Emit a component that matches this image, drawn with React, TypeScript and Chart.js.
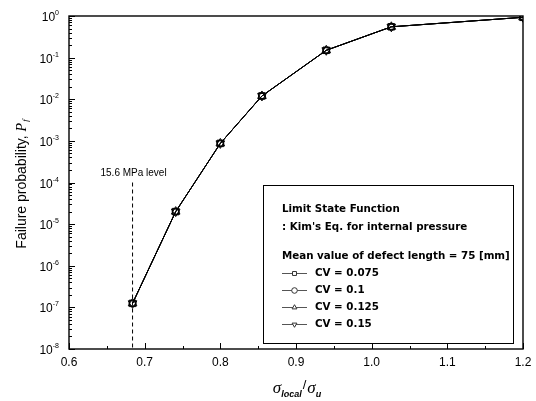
import React, { useEffect, useRef } from "react";
import { Chart, registerables } from "chart.js";

Chart.register(...registerables);

// ---- data ----
const stressRatio = [0.684, 0.741, 0.8, 0.855, 0.94, 1.026, 1.2];
const pfCV0075 = [1.25e-7, 2.0e-5, 8.7e-4, 1.2e-2, 0.15, 0.55, 0.93];
const pfCV01 = [1.25e-7, 2.0e-5, 8.7e-4, 1.2e-2, 0.15, 0.55, 0.93];
const pfCV0125 = [1.25e-7, 2.0e-5, 8.7e-4, 1.2e-2, 0.15, 0.55, 0.93];
const pfCV015 = [1.25e-7, 2.0e-5, 8.7e-4, 1.2e-2, 0.15, 0.55, 0.93];
const seriesLabels = ["CV = 0.075", "CV = 0.1", "CV = 0.125", "CV = 0.15"];
const seriesMarkers = ["rect", "circle", "triangle", "triangle"];
const seriesRotations = [0, 0, 0, 180];
const seriesMarkerSizes = [4.6, 3.4, 5, 5];

const xTickValues = [0.6, 0.7, 0.8, 0.9, 1.0, 1.1, 1.2];
const xMinorTickValues = [0.65, 0.75, 0.85, 0.95, 1.05, 1.15];
const yExponents = [0, -1, -2, -3, -4, -5, -6, -7, -8];

const levelX = [0.684, 0.684];
const levelY = [1e-4, 1e-8];
const levelLabel = "15.6 MPa level";

const legendHeaderLines = [
  "Limit State Function",
  ": Kim's Eq. for internal pressure",
  "Mean value of defect length = 75 [mm]",
];

const xTitleMain = "σ";
const xTitleSub1 = "local";
const xTitleSub2 = "u";
const yTitleText = "Failure probability, ";

function drawMarker(ctx: CanvasRenderingContext2D, style: string, rot: number, x: number, y: number, r: number) {
  ctx.beginPath();
  if (style === "rect") {
    const s = r * Math.SQRT1_2;
    ctx.rect(x - s, y - s, 2 * s, 2 * s);
  } else if (style === "circle") {
    ctx.arc(x, y, r, 0, Math.PI * 2);
  } else {
    const dir = rot === 180 ? -1 : 1;
    ctx.moveTo(x, y - dir * r);
    ctx.lineTo(x - r * 0.866, y + dir * r * 0.5);
    ctx.lineTo(x + r * 0.866, y + dir * r * 0.5);
    ctx.closePath();
  }
  ctx.fill();
  ctx.stroke();
}

const decorPlugin = {
  id: "decor",
  afterDraw(chart: any) {
    const { ctx, chartArea, scales } = chart;
    const xs = scales.x;
    const ys = scales.y;
    const { left, right, top, bottom } = chartArea;
    ctx.save();
    ctx.strokeStyle = "#000";
    ctx.fillStyle = "#000";

    // frame
    ctx.lineWidth = 1.4;
    ctx.strokeRect(left, top, right - left, bottom - top);

    // x ticks
    ctx.lineWidth = 1;
    ctx.beginPath();
    xTickValues.forEach((v) => {
      const px = Math.round(xs.getPixelForValue(v)) + 0.5;
      ctx.moveTo(px, bottom);
      ctx.lineTo(px, bottom - 6);
    });
    xMinorTickValues.forEach((v) => {
      const px = Math.round(xs.getPixelForValue(v)) + 0.5;
      ctx.moveTo(px, bottom);
      ctx.lineTo(px, bottom - 3);
    });
    // y ticks
    yExponents.forEach((e) => {
      const py = Math.round(ys.getPixelForValue(Math.pow(10, e))) + 0.5;
      ctx.moveTo(left, py);
      ctx.lineTo(left + 6, py);
      if (e > -8) {
        for (let k = 2; k <= 9; k++) {
          const pm = Math.round(ys.getPixelForValue(k * Math.pow(10, e - 1))) + 0.5;
          ctx.moveTo(left, pm);
          ctx.lineTo(left + 3, pm);
        }
      }
    });
    ctx.stroke();

    // x tick labels
    ctx.font = "12px 'Liberation Sans', Arial, sans-serif";
    ctx.textAlign = "center";
    ctx.textBaseline = "middle";
    xTickValues.forEach((v) => {
      ctx.fillText(v.toFixed(1), xs.getPixelForValue(v), bottom + 14);
    });

    // y tick labels 10^n
    yExponents.forEach((e) => {
      const py = ys.getPixelForValue(Math.pow(10, e));
      const exp = e === 0 ? "0" : "-" + Math.abs(e);
      ctx.font = "7px 'Liberation Sans', Arial, sans-serif";
      const ew = ctx.measureText(exp).width;
      ctx.font = "12px 'Liberation Sans', Arial, sans-serif";
      const bw = ctx.measureText("10").width;
      const xe = left - 10;
      ctx.textAlign = "left";
      ctx.textBaseline = "alphabetic";
      ctx.fillText("10", xe - ew - bw, py + 5);
      ctx.font = "7px 'Liberation Sans', Arial, sans-serif";
      ctx.fillText(exp, xe - ew, py - 1);
    });

    // y title
    ctx.save();
    ctx.translate(22, (top + bottom) / 2 + 2);
    ctx.rotate(-Math.PI / 2);
    ctx.font = "14px 'Liberation Sans', Arial, sans-serif";
    const w1 = ctx.measureText(yTitleText).width;
    ctx.font = "italic 14px 'Liberation Serif', serif";
    const w2 = ctx.measureText("P").width;
    ctx.font = "italic 9px 'Liberation Serif', serif";
    const w3 = ctx.measureText("f").width;
    let cx = -(w1 + w2 + w3) / 2;
    ctx.textAlign = "left";
    ctx.textBaseline = "middle";
    ctx.font = "14px 'Liberation Sans', Arial, sans-serif";
    ctx.fillText(yTitleText, cx, 0);
    cx += w1;
    ctx.font = "italic 14px 'Liberation Serif', serif";
    ctx.fillText("P", cx, 0);
    cx += w2;
    ctx.font = "italic 9px 'Liberation Serif', serif";
    ctx.fillText("f", cx + 1, 4);
    ctx.restore();

    // x title
    {
      const base = 393;
      ctx.textAlign = "left";
      ctx.textBaseline = "alphabetic";
      const fMain = "italic 17px 'Liberation Serif', serif";
      const fSub = "italic bold 9px 'Liberation Sans', Arial, sans-serif";
      const fSlash = "13px 'Liberation Sans', Arial, sans-serif";
      ctx.font = fMain;
      const sw = ctx.measureText(xTitleMain).width;
      ctx.font = fSub;
      const l1 = ctx.measureText(xTitleSub1).width;
      const l2 = ctx.measureText(xTitleSub2).width;
      ctx.font = fSlash;
      const slw = ctx.measureText("/").width;
      const total = sw + l1 + slw + 2 + sw + l2;
      let px = (left + right) / 2 - total / 2 + 1;
      ctx.font = fMain;
      ctx.fillText(xTitleMain, px, base);
      px += sw;
      ctx.font = fSub;
      ctx.fillText(xTitleSub1, px, base + 4);
      px += l1 + 1;
      ctx.font = fSlash;
      ctx.fillText("/", px, base - 4);
      px += slw + 1;
      ctx.font = fMain;
      ctx.fillText(xTitleMain, px, base);
      px += sw;
      ctx.font = fSub;
      ctx.fillText(xTitleSub2, px, base + 4);
    }

    // level label
    ctx.font = "10px 'Liberation Sans', Arial, sans-serif";
    ctx.textAlign = "center";
    ctx.textBaseline = "middle";
    ctx.fillText(levelLabel, xs.getPixelForValue(levelX[0]) + 1, ys.getPixelForValue(levelY[0]) - 9);

    // legend box
    const bx = left + 194;
    const by = top + 169;
    const bw2 = 250;
    const bh = 158;
    ctx.fillStyle = "#fff";
    ctx.fillRect(bx, by, bw2, bh);
    ctx.fillStyle = "#000";
    ctx.lineWidth = 1;
    ctx.strokeRect(bx + 0.5, by + 0.5, bw2, bh);
    const tx = bx + 19;
    ctx.textAlign = "left";
    ctx.textBaseline = "middle";
    ctx.font = "bold 10.3px 'DejaVu Sans', sans-serif";
    ctx.fillText(legendHeaderLines[0], tx, by + 24);
    ctx.fillText(legendHeaderLines[1], tx, by + 42);
    ctx.fillText(legendHeaderLines[2], tx, by + 71);
    seriesLabels.forEach((lab, i) => {
      const ly = by + 88 + i * 17;
      ctx.strokeStyle = "#555";
      ctx.lineWidth = 1;
      ctx.beginPath();
      ctx.moveTo(tx, ly + 0.5);
      ctx.lineTo(tx + 25, ly + 0.5);
      ctx.stroke();
      ctx.fillStyle = "#fff";
      ctx.strokeStyle = "#333";
      drawMarker(ctx, seriesMarkers[i], seriesRotations[i], tx + 12.5, ly + 0.5, 2.8);
      ctx.fillStyle = "#000";
      ctx.fillText(lab, tx + 33, ly);
    });

    ctx.restore();
  },
};

export default function App() {
  const ref = useRef<HTMLCanvasElement | null>(null);
  useEffect(() => {
    document.body.style.margin = "0";
    const canvas = ref.current;
    if (!canvas) return;
    const seriesData = [pfCV0075, pfCV01, pfCV0125, pfCV015];
    const datasets: any[] = seriesData.map((vals, i) => ({
      label: seriesLabels[i],
      data: stressRatio.map((x, j) => ({ x, y: vals[j] })),
      showLine: true,
      borderColor: "#000",
      borderWidth: 1,
      backgroundColor: "#fff",
      pointBackgroundColor: "rgba(255,255,255,0)",
      pointBorderColor: "#000",
      pointBorderWidth: 1,
      pointStyle: seriesMarkers[i],
      pointRotation: seriesRotations[i],
      pointRadius: seriesMarkerSizes[i],
      fill: false,
      tension: 0,
    }));
    datasets.unshift({
      label: "level",
      data: levelX.map((x, j) => ({ x, y: levelY[j] })),
      showLine: true,
      borderColor: "#000",
      borderWidth: 1,
      borderDash: [4, 3],
      pointRadius: 0,
      fill: false,
    });
    const chart = new Chart(canvas, {
      type: "scatter",
      data: { datasets },
      options: {
        animation: false,
        responsive: false,
        devicePixelRatio: 1,
        layout: { padding: { top: 16, right: 13, left: 0, bottom: 0 } },
        plugins: { legend: { display: false }, tooltip: { enabled: false } },
        scales: {
          x: {
            type: "linear",
            min: 0.6,
            max: 1.2,
            grid: { display: false },
            border: { display: false },
            ticks: { display: false },
            afterFit: (s: any) => {
              s.height = 52;
            },
          },
          y: {
            type: "logarithmic",
            min: 1e-8,
            max: 1,
            grid: { display: false },
            border: { display: false },
            ticks: { display: false },
            afterFit: (s: any) => {
              s.width = 69;
            },
          },
        },
      },
      plugins: [decorPlugin],
    } as any);
    return () => chart.destroy();
  }, []);
  return (
    <div style={{ width: 536, height: 401, background: "#fff" }}>
      <canvas ref={ref} width={536} height={401} style={{ display: "block" }} />
    </div>
  );
}
